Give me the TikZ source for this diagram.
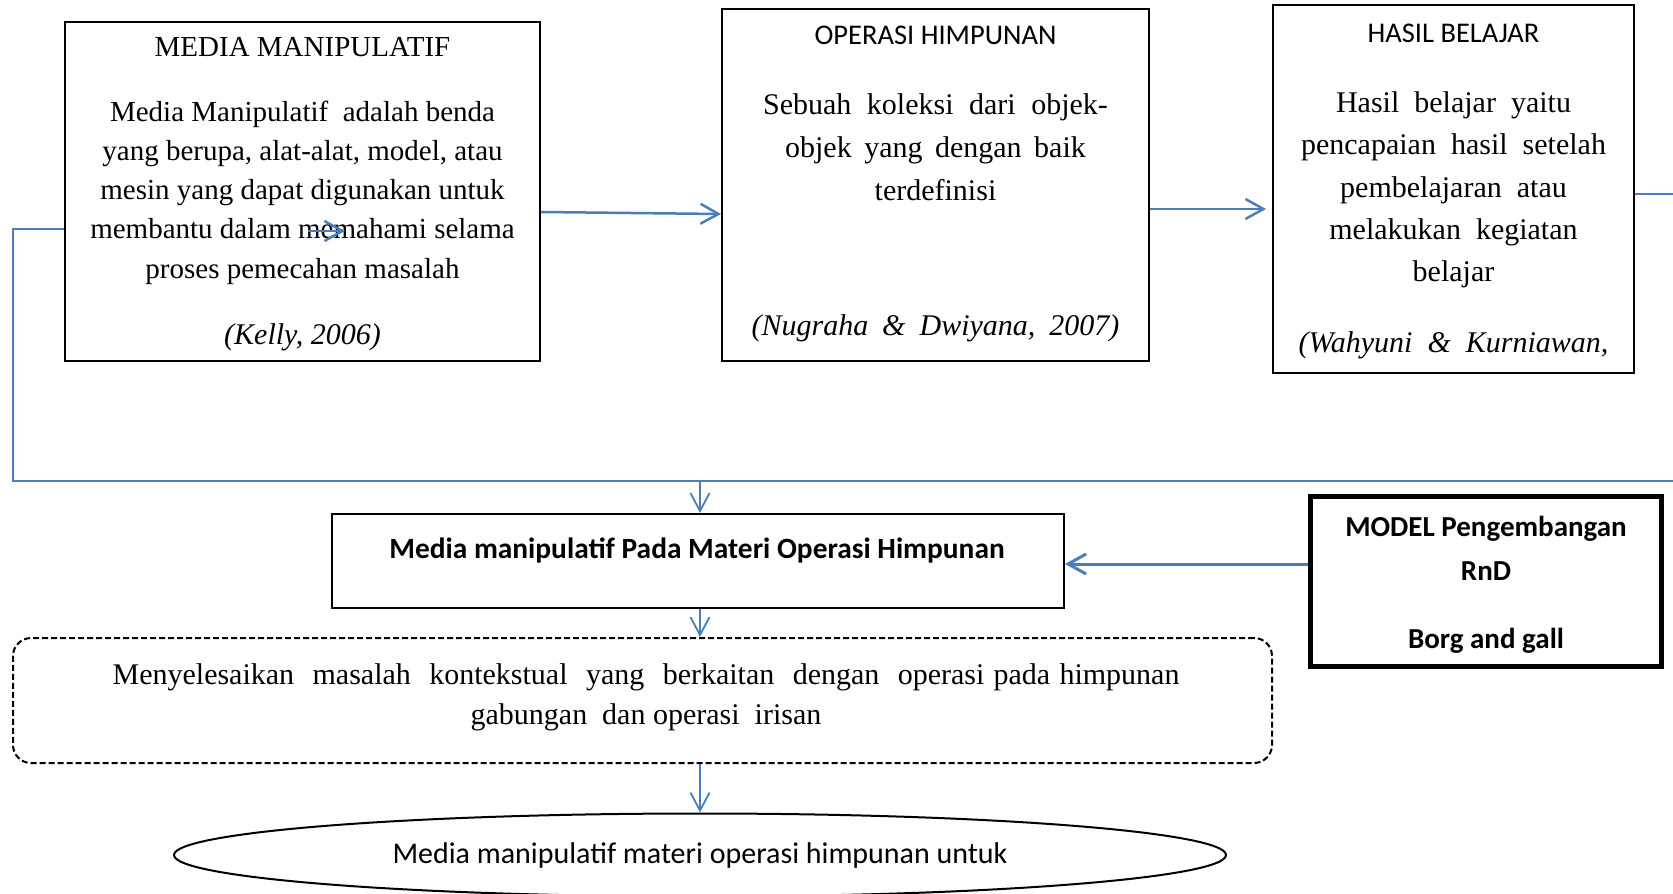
\documentclass[tikz,border=0pt]{standalone}
\usepackage{fontspec}
\setmainfont{Liberation Serif}
\newfontfamily\calfont{Carlito}
\usetikzlibrary{arrows.meta,shapes.geometric}
\newcommand\fsz[2]{\fontsize{#1}{#2}\selectfont}
\definecolor{lineblue}{RGB}{74,126,187}
\tikzset{
  box/.style={draw=black, line width=2pt, rectangle, inner sep=0pt},
  txt/.style={inner sep=0pt, align=center},
  ttl/.style={txt, font=\calfont\fsz{28.5}{34}},
  arr/.style={draw=lineblue, line width=2.5pt, -{Straight Barb[length=18pt,width=20pt]}},
  darr/.style={draw=lineblue, line width=1.8pt, -{Straight Barb[length=18pt,width=19pt]}},
  ln/.style={draw=lineblue, line width=2.5pt},
}
\begin{document}
\begin{tikzpicture}[x=1pt,y=-1pt]
\useasboundingbox[fill=white] (0,0) rectangle (1673,894);

% Box 1
\node[box, minimum width=475pt, minimum height=339pt] (b1) at (302.5,191.5) {};
\node[txt, font=\fsz{29}{34}] (b1t) at (302.5,47) {MEDIA MANIPULATIF};
\node[txt, font=\fsz{29}{39.25}] (b1b) at (302.5,192.5) {Media Manipulatif\ \ adalah benda\\ yang berupa, alat-alat, model, atau\\ mesin yang dapat digunakan untuk\\ membantu dalam memahami selama\\ proses pemecahan masalah};
\node[txt, font=\fsz{30}{34}\itshape] (b1c) at (302.5,337) {(Kelly, 2006)};

% Box 2
\node[box, minimum width=427pt, minimum height=352pt] (b2) at (935.5,185) {};
\node[ttl] (b2t) at (935.5,35) {OPERASI HIMPUNAN};
\node[txt, font=\fsz{30}{43}] (b2b) at (935.5,147) {\spaceskip=15.5pt Sebuah koleksi dari objek-\\ \spaceskip=12.5pt objek yang dengan baik\\ terdefinisi};
\node[txt, font=\fsz{30}{34}\itshape] (b2c) at (935.5,328) {\spaceskip=14pt (Nugraha \& Dwiyana, 2007)};

% Box 3
\node[box, minimum width=361pt, minimum height=368pt] (b3) at (1453.5,189) {};
\node[ttl] (b3t) at (1453.5,33) {HASIL BELAJAR};
\node[txt, font=\fsz{30}{42.25}] (b3b) at (1453.5,190) {Hasil\ \ belajar\ \ yaitu\\ pencapaian\ \ hasil\ \ setelah\\ pembelajaran\ \ atau\\ melakukan\ \ kegiatan\\ belajar};
\node[txt, font=\fsz{30}{34}\itshape] (b3c) at (1453.5,345) {(Wahyuni\ \ \&\ \ Kurniawan,};

% Box 4
\node[box, minimum width=732pt, minimum height=94pt] (b4) at (698,561) {};
\node[txt, font=\calfont\bfseries\fsz{29.4}{34}] (b4t) at (697,550) {Media manipulatif Pada Materi Operasi Himpunan};

% Model box
\node[box, line width=5pt, minimum width=351pt, minimum height=170pt] (mod) at (1486,581.5) {};
\node[txt, font=\calfont\bfseries\fsz{29}{34}] (m1) at (1486,529) {MODEL Pengembangan};
\node[txt, font=\calfont\bfseries\fsz{29}{34}] (m2) at (1486,571) {RnD};
\node[txt, font=\calfont\bfseries\fsz{29}{34}] (m3) at (1486,641) {Borg and gall};

% Dashed box
\node[draw=black, line width=2pt, dash pattern=on 6pt off 3pt, rounded corners=18pt, rectangle, inner sep=0pt, minimum width=1259pt, minimum height=125pt] (db) at (642.5,700.5) {};
\node[txt, font=\fsz{30}{40}] (dbt) at (646,697.5) {\spaceskip=9.2pt Menyelesaikan\ \ masalah\ \ kontekstual\ \ yang\ \ berkaitan\ \ dengan\ \ operasi pada himpunan\\ gabungan\ \ dan operasi\ \ irisan};

% Ellipse
\node[draw=black, line width=2pt, ellipse, inner sep=0pt, minimum width=1052pt, minimum height=83pt, font=\calfont\fsz{30}{34}] (el) at (700,855) {\raisebox{-3pt}{Media manipulatif materi operasi himpunan untuk}};

% Connectors
\coordinate (lpA) at (13,229);
\coordinate (lpB) at (13,481);
\coordinate (lpC) at (1673,481);
\coordinate (tap) at (700,481);
\coordinate (rEdge) at (1673,194);
\coordinate (sA) at (308,231);
\coordinate (sB) at (345,231);

\draw[ln] (b1.west |- lpA) -- (lpA) -- (lpB) -- (lpC);
\draw[ln] (b3.east |- rEdge) -- (rEdge);
\draw[arr] (b1.east |- 0,212) -- (b2.west |- 0,214);
\draw[arr] (b2.east |- 0,209) -- ([xshift=-6pt]b3.west |- 0,209);
\draw[arr] (sA) -- (sB);
\draw[darr] (tap) -- (tap |- b4.north);
\draw[darr] (tap |- b4.south) -- (tap |- db.north);
\draw[darr] (tap |- db.south) -- (el.north);
\draw[arr, line width=3pt] (mod.west |- 0,564) -- (b4.east |- 0,564);
\end{tikzpicture}
\end{document}
